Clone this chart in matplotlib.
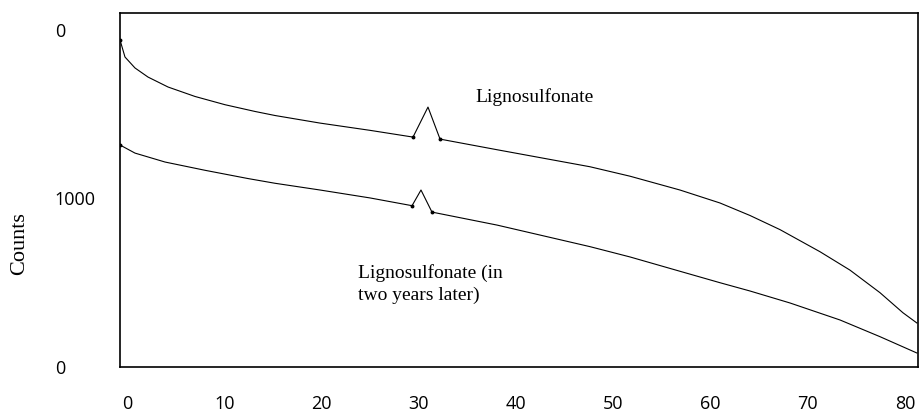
import matplotlib
matplotlib.use("Agg")
import matplotlib.pyplot as plt

# upper curve (fresh lignosulfonate)
fresh_x = [-0.72, -0.21, 0.82, 2.16, 4.22, 6.99, 10.08, 13.16, 15.22, 19.85, 24.99, 29.41,
           30.95, 32.19, 38.05, 47.61, 51.72, 56.86, 60.98, 64.06, 67.15, 71.26, 74.34,
           77.43, 79.79, 81.23]
fresh_y = [1940, 1839, 1774, 1720, 1661, 1605, 1556, 1516, 1492, 1447, 1404, 1364,
           1542, 1352, 1289, 1188, 1132, 1050, 973, 899, 815, 684, 575,
           441, 322, 261]

# lower curve (two years later)
aged_x = [-0.72, 0.82, 3.91, 8.02, 12.44, 15.22, 19.85, 24.99, 29.31,
          30.23, 31.36, 38.05, 47.61, 51.72, 56.86, 60.98, 64.06, 68.17, 73.32,
          77.43, 81.23]
aged_y = [1317, 1269, 1216, 1167, 1118, 1090, 1050, 1003, 957,
          1050, 919, 842, 714, 653, 568, 500, 451, 380, 279,
          180, 83]

x_ticks = [0, 10, 20, 30, 40, 50, 60, 70, 80]
y_ticks = [0, 1000, 2000]
y_tick_labels = ["0", "1000", "0"]

fig = plt.figure(figsize=(9.19, 4.12), dpi=100)
ax = fig.add_axes([0.1306, 0.1092, 0.8683, 0.8592])

ax.plot(fresh_x, fresh_y, color="black", lw=0.8,
        marker="o", ms=1.8, markevery=[0, 11, 13])
ax.plot(aged_x, aged_y, color="black", lw=0.8,
        marker="o", ms=1.8, markevery=[0, 8, 10])

ax.set_xlim(-0.72, 81.34)
ax.set_ylim(0, 2100)

ax.set_xticks(x_ticks)
ax.set_xticklabels([str(v) for v in x_ticks], fontfamily="Open Sans", fontsize=13)
ax.set_yticks(y_ticks)
ax.set_yticklabels(y_tick_labels, fontfamily="Open Sans", fontsize=13, ha="left")
ax.tick_params(axis="both", length=0)
ax.tick_params(axis="x", pad=20)
ax.tick_params(axis="y", pad=47)

for s in ax.spines.values():
    s.set_linewidth(1.2)
    s.set_color("black")

ax.text(35.8, 1602, "Lignosulfonate", fontfamily="Liberation Serif", fontsize=14,
        va="center", ha="left")
ax.text(23.75, 492, "Lignosulfonate (in\ntwo years later)", fontfamily="Liberation Serif",
        fontsize=14, va="center", ha="left", linespacing=1.3)

fig.text(20 / 919, 1 - 244 / 412, "Counts", rotation=90, fontfamily="Liberation Serif",
         fontsize=16, va="center", ha="center")

fig.savefig("out.png", dpi=100)
